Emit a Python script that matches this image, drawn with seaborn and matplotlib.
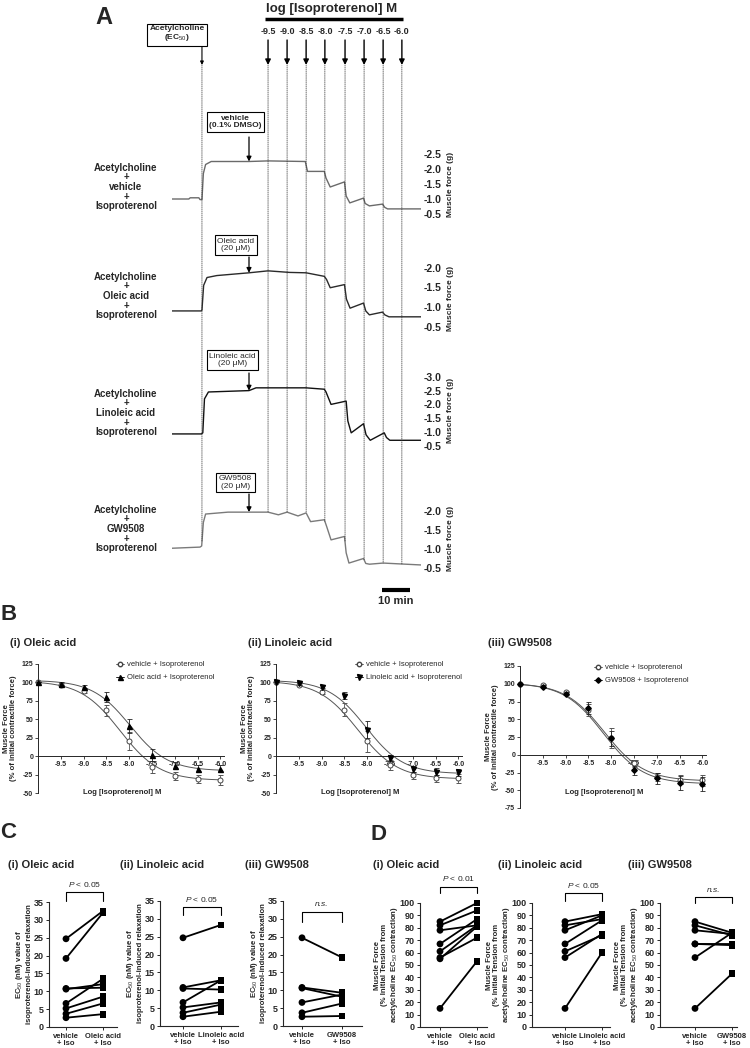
import numpy as np
import pandas as pd
import seaborn as sns
import matplotlib.pyplot as plt
from matplotlib.lines import Line2D
from matplotlib.patches import ConnectionPatch

sns.set_style('ticks')
plt.rcParams['font.family'] = ['Liberation Sans', 'DejaVu Sans']
plt.rcParams['mathtext.fontset'] = 'custom'
plt.rcParams['mathtext.rm'] = 'Liberation Sans'
plt.rcParams['mathtext.it'] = 'Liberation Sans:italic'
plt.rcParams['mathtext.bf'] = 'Liberation Sans:bold'

# ---------------- panel A : raw tension traces ----------------
iso_doses = ['-9.5', '-9.0', '-8.5', '-8.0', '-7.5', '-7.0', '-6.5', '-6.0']
iso_times = [34.3, 41.1, 47.9, 54.6, 61.8, 68.6, 75.4, 82.1]  # min
ach_time = 10.7
drug_time = 27.5

trace_names = ['vehicle', 'Oleic acid', 'Linoleic acid', 'GW9508']
drug_boxes = ['vehicle\n(0.1% DMSO)', 'Oleic acid\n(20 μM)', 'Linoleic acid\n(20 μM)', 'GW9508\n(20 μM)']

veh_t = [0, 6, 6.5, 9.6, 10.0, 10.7, 11.2, 12.0, 14.0, 27.5, 34.3, 47.6, 48.4, 54.4, 55.0, 56.5,
         61.6, 62.2, 63.5, 68.4, 69.0, 70.5, 75.2, 76.0, 77.0, 88.9]
veh_g = [1.00, 1.00, 1.04, 1.04, 0.98, 0.98, 1.85, 2.15, 2.25, 2.25, 2.27, 2.25, 1.92, 1.92, 1.70, 1.40,
         1.57, 1.10, 0.87, 1.03, 0.85, 0.77, 0.83, 0.72, 0.67, 0.67]

ole_t = [0, 10.4, 10.7, 11.3, 12.5, 16, 27.5, 34.3, 42, 47.9, 54.4, 55.2, 56.5, 61.6, 62.3, 63.6,
         68.4, 69.2, 70.5, 75.2, 76.0, 77.5, 88.9]
ole_g = [0.90, 0.90, 0.92, 1.55, 1.75, 1.80, 1.87, 1.92, 1.88, 1.87, 1.78, 1.70, 1.49, 1.57, 1.20, 0.97,
         1.10, 0.90, 0.80, 0.87, 0.80, 0.75, 0.75]

lin_t = [0, 10.5, 11.0, 11.6, 13.0, 27.5, 30, 47.9, 54.4, 55.0, 56.8, 62.2, 62.8, 64.0, 68.4, 69.3,
         70.8, 75.8, 76.6, 77.8, 88.9]
lin_g = [0.93, 0.93, 0.97, 2.20, 2.45, 2.50, 2.60, 2.60, 2.55, 2.45, 2.00, 2.12, 1.40, 0.97, 1.30, 0.90,
         0.70, 0.97, 0.80, 0.70, 0.70]

gw_t = [0, 10.0, 10.6, 11.2, 12.0, 20, 34.3, 38, 41.1, 45, 47.9, 49.5, 54.4, 55.2, 56.8, 61.6,
        62.2, 63.2, 68.4, 69.2, 70.5, 75.4, 88.9]
gw_g = [1.02, 1.05, 1.08, 1.70, 1.92, 1.97, 1.97, 1.90, 1.97, 1.87, 1.95, 1.72, 1.77, 1.60, 1.24, 1.33,
        0.90, 0.63, 0.75, 0.62, 0.60, 0.63, 0.58]

trace_ticks = [[0.5, 1.0, 1.5, 2.0, 2.5], [0.5, 1.0, 1.5, 2.0],
               [0.5, 1.0, 1.5, 2.0, 2.5, 3.0], [0.5, 1.0, 1.5, 2.0]]

# ---------------- panel B : concentration-response ----------------
log_iso = [-10, -9.5, -9.0, -8.5, -8.0, -7.5, -7.0, -6.5, -6.0]
b_tick_labels = ['-9.5', '-9.0', '-8.5', '-8.0', '-7.5', '-7.0', '-6.5', '-6.0']

veh_i = [100, 97, 88, 62, 21, -15, -27, -31, -32]
veh_i_sem = [0, 2, 3, 8, 12, 8, 5, 5, 7]
ole_i = [100, 98, 94, 80, 41, 2, -13, -17, -17]
ole_i_sem = [0, 2, 2, 7, 10, 8, 5, 5, 5]

veh_ii = [100, 97, 87, 63, 20, -12, -26, -30, -30]
veh_ii_sem = [0, 2, 3, 9, 14, 7, 5, 5, 6]
lin_ii = [100, 99, 94, 82, 36, -2, -17, -21, -22]
lin_ii_sem = [0, 2, 2, 5, 11, 4, 4, 5, 5]

veh_iii = [100, 98, 88, 63, 23, -12, -31, -35, -36]
veh_iii_sem = [0, 2, 2, 8, 14, 5, 6, 6, 8]
gw_iii = [100, 96, 86, 66, 23, -22, -33, -40, -41]
gw_iii_sem = [0, 2, 2, 8, 10, 6, 8, 10, 10]

# fitted curves: top, bottom, logEC50, hill slope
fit_veh_i = [102, -33, -8.20, 1.0]
fit_ole_i = [103, -20, -7.98, 1.05]
fit_veh_ii = [102, -31, -8.20, 1.0]
fit_lin_ii = [103, -24, -8.03, 1.05]
fit_veh_iii = [101, -37, -8.15, 1.0]
fit_gw_iii = [101, -41, -8.17, 1.0]

# ---------------- panel C : EC50 (nM) ----------------
c_veh_i = [24.7, 19.2, 10.8, 10.6, 6.6, 5.2, 3.7, 2.6]
c_ole_i = [32.5, 32.0, 11.0, 12.0, 13.5, 8.5, 6.6, 3.6]
c_veh_ii = [24.7, 10.8, 10.5, 6.6, 5.2, 3.7, 2.6]
c_lin_ii = [28.3, 12.8, 10.2, 12.8, 6.6, 6.0, 4.0]
c_veh_iii = [24.7, 10.8, 10.6, 6.6, 3.7, 2.6]
c_gw_iii = [19.2, 9.3, 8.2, 8.8, 6.3, 2.8]

# ---------------- panel D : muscle force (% initial tension) ----------------
d_veh_i = [85, 82, 78, 67, 61, 55, 56, 15]
d_ole_i = [100, 94, 82, 87, 82, 81, 72, 53]
d_veh_ii = [85, 82, 78, 67, 61, 56, 15]
d_lin_ii = [91, 87, 90, 86, 74, 75, 60]
d_veh_iii = [85, 82, 78, 67, 67, 56, 15]
d_gw_iii = [76, 74, 75, 67, 66, 76, 43]

W, H = 750, 1048
fig = plt.figure(figsize=(W / 100, H / 100), dpi=100)


def px_ax(l, t, r, b):
    return fig.add_axes([l / W, 1 - b / H, (r - l) / W, (b - t) / H])


# x position of the traces: 172 px = 0 min, 2.8 px per min
def t_of(px):
    return (px - 172) / 2.8


ov = px_ax(0, 0, W, 605)
ov.set_xlim(t_of(0), t_of(W))
ov.set_ylim(605, 0)
ov.axis('off')

fig.text(95 / W, 1 - 18 / H, 'A', fontsize=17, fontweight='bold', va='center')

traces = [(veh_t, veh_g), (ole_t, ole_g), (lin_t, lin_g), (gw_t, gw_g)]
trace_colors = ['#6a6a6a', '#2a2a2a', '#111111', '#7a7a7a']
# top px, bottom px, px of 1.0 g, px per g, left label centre, right label centre, box centre x, box centre y, box bottom
layout = [(145, 222, 199, 30.0, 187, 184, 235.5, 122, 137),
          (260, 335, 307, 39.3, 296, 298, 236, 245, 257),
          (372, 455, 432, 27.6, 413, 410, 232.5, 360, 373),
          (500, 575, 549, 38.0, 529, 538, 235.5, 482.5, 494)]

trace_axes = []
for i, (tt, gg) in enumerate(traces):
    top, bot, ref, gain, lab_y, ylab_y, bx, by, bb = layout[i]
    ax = px_ax(172, top, 421, bot)
    ax.set_xlim(0, t_of(421))
    ax.set_ylim(1.0 - (bot - ref) / gain, 1.0 + (ref - top) / gain)
    sns.lineplot(x=tt, y=gg, ax=ax, color=trace_colors[i], lw=1.0, estimator=None)
    ax.patch.set_alpha(0)
    for s in ax.spines.values():
        s.set_visible(False)
    ax.set_xticks([])
    ax.yaxis.tick_right()
    ax.set_yticks(trace_ticks[i])
    ax.set_yticklabels([f'-{v:.1f}' for v in trace_ticks[i]], fontsize=7.5, fontweight='bold')
    ax.tick_params(axis='y', length=0, pad=2)
    ax.yaxis.set_label_position('right')
    ax.set_ylabel('Muscle force (g)', fontsize=6, fontweight='bold')
    ax.yaxis.set_label_coords((447 - 172) / (421 - 172), (bot - ylab_y) / (bot - top))
    trace_axes.append(ax)

    ov.text(t_of(126), lab_y, f'Acetylcholine\n+\n{trace_names[i]}\n+\nIsoproterenol',
            ha='center', va='center', fontsize=7, fontweight='bold', linespacing=0.95)
    ov.text(t_of(bx), by, drug_boxes[i], ha='center', va='center', fontsize=6,
            fontweight='bold' if i == 0 else 'normal', linespacing=1.1,
            bbox=dict(boxstyle='square,pad=0.3', fc='white', ec='black', lw=0.8))
    ov.annotate('', xy=(drug_time, np.interp(drug_time, tt, gg)), xycoords=ax.transData,
                xytext=(drug_time, bb), textcoords='data',
                arrowprops=dict(arrowstyle='-|>', color='black', lw=0.9, mutation_scale=7,
                                shrinkA=0, shrinkB=0))

# acetylcholine box
ov.text(t_of(177), 34, 'Acetylcholine\n(EC$_{50}$)', ha='center', va='center', fontsize=6,
        fontweight='bold', linespacing=1.1,
        bbox=dict(boxstyle='square,pad=0.3', fc='white', ec='black', lw=0.8))
ov.annotate('', xy=(ach_time, 65), xytext=(ach_time, 47),
            arrowprops=dict(arrowstyle='-|>', color='black', lw=0.8, mutation_scale=5,
                            shrinkA=0, shrinkB=0))

# isoproterenol additions
ov.text(t_of(332), 9, 'log [Isoproterenol] M', ha='center', va='center', fontsize=9.5, fontweight='bold')
ov.plot([iso_times[0] - 1.1, iso_times[-1] + 0.3], [19, 19], color='black', lw=2.5, solid_capstyle='butt')
for t, d in zip(iso_times, iso_doses):
    ov.text(t, 32, d, ha='center', va='center', fontsize=6.5, fontweight='bold')
    ov.annotate('', xy=(t, 65), xytext=(t, 40),
                arrowprops=dict(arrowstyle='-|>', color='black', lw=1.0, mutation_scale=8,
                                shrinkA=0, shrinkB=0))

# dotted guide lines down to the last trace
gw_ax = trace_axes[-1]
for t in [ach_time] + iso_times:
    con = ConnectionPatch(xyA=(t, 65), coordsA=ov.transData,
                          xyB=(t, np.interp(t, gw_t, gw_g)), coordsB=gw_ax.transData,
                          color='#333333', lw=0.5, linestyle=(0, (1.5, 1.5)))
    fig.add_artist(con)

# scale bar
ov.plot([75, 85], [590, 590], color='black', lw=3, solid_capstyle='butt')
ov.text(80, 601, '10 min', ha='center', va='center', fontsize=8, fontweight='bold')


# ---------------- panel B ----------------
def logistic(x, p):
    top, bottom, logec, hill = p
    return bottom + (top - bottom) / (1 + 10 ** ((x - logec) * hill))


def dose_panel(l, t, b, ylim, title, title_x, veh, veh_sem, drug, drug_sem,
               fit_v, fit_d, marker, ms, drug_label, leg_x, leg_y, xlab_y):
    r = l + 186
    ax = px_ax(l, t, r, b)
    ax.set_xlim(-10, -10 + (r - l) / 45.6)
    ax.set_ylim(*ylim)
    xs = np.linspace(-10, -6, 200)
    sns.lineplot(x=xs, y=logistic(xs, fit_v), ax=ax, color='#555555', lw=0.7)
    sns.lineplot(x=xs, y=logistic(xs, fit_d), ax=ax, color='#555555', lw=0.7)
    ax.errorbar(log_iso, veh, yerr=veh_sem, fmt='o', mfc='white', mec='#444444', mew=0.7, ms=3.6,
                ecolor='#555555', elinewidth=0.6, capsize=1.8, capthick=0.6, clip_on=False, zorder=3)
    ax.errorbar(log_iso, drug, yerr=drug_sem, fmt=marker, color='black', ms=ms,
                ecolor='#222222', elinewidth=0.6, capsize=1.8, capthick=0.6, clip_on=False, zorder=4)
    sns.despine(ax=ax)
    ax.spines['bottom'].set_position(('data', 0))
    for s in ['left', 'bottom']:
        ax.spines[s].set_linewidth(0.7)
    ax.set_xticks(log_iso[1:])
    ax.set_xticklabels(b_tick_labels, fontsize=5, fontweight='bold')
    yt = list(range(ylim[0], ylim[1] + 1, 25))
    ax.set_yticks(yt)
    ax.set_yticklabels([str(v) for v in yt], fontsize=5, fontweight='bold')
    ax.tick_params(length=2, width=0.6, pad=1.5)
    ax.set_xlabel('Log [Isoproterenol] M', fontsize=5.5, fontweight='bold')
    ax.xaxis.set_label_coords(0.45, (b - xlab_y) / (b - t))
    ax.set_ylabel('Muscle Force\n(% of initial contractile force)', fontsize=5.5,
                  fontweight='bold', linespacing=1.05)
    ax.yaxis.set_label_coords(-21 / (r - l), 0.5)
    handles = [Line2D([], [], color='#444444', marker='o', mfc='white', ms=3.2, lw=0.6),
               Line2D([], [], color='black', marker=marker, ms=ms, lw=0.6)]
    ax.legend(handles, ['vehicle + Isoproterenol', drug_label], loc='upper left',
              bbox_to_anchor=((leg_x - l) / (r - l), (b - leg_y) / (b - t)), frameon=False,
              fontsize=5.5, handlelength=1.0, handletextpad=0.4, labelspacing=0.75,
              borderaxespad=0, borderpad=0)
    fig.text(title_x / W, 1 - 643 / H, title, fontsize=8, fontweight='bold', va='center')
    return ax


fig.text(0, 1 - 615 / H, 'B', fontsize=16, fontweight='bold', va='center')
dose_panel(38, 664, 793, (-50, 125), '(i) Oleic acid', 10, veh_i, veh_i_sem, ole_i, ole_i_sem,
           fit_veh_i, fit_ole_i, '^', 3.6, 'Oleic acid + Isoproterenol', 116, 661, 789)
dose_panel(276, 664, 793, (-50, 125), '(ii) Linoleic acid', 248, veh_ii, veh_ii_sem, lin_ii, lin_ii_sem,
           fit_veh_ii, fit_lin_ii, 'v', 3.6, 'Linoleic acid + Isoproterenol', 355, 661, 789)
dose_panel(520, 666, 808, (-75, 125), '(iii) GW9508', 488, veh_iii, veh_iii_sem, gw_iii, gw_iii_sem,
           fit_veh_iii, fit_gw_iii, 'D', 2.8, 'GW9508 + Isoproterenol', 594, 664, 789)


# ---------------- panels C and D ----------------
def paired_panel(l, t, r, b, v_px, d_px, ymax, ystep, before, after, drug, sig, bracket,
                 ylabel, label_off, title, title_x):
    ax = px_ax(l, t, r, b)
    gap = d_px - v_px
    df = pd.DataFrame({
        'pair': list(range(len(before))) * 2,
        'x': [0] * len(before) + [1] * len(after),
        'cond': ['vehicle'] * len(before) + ['drug'] * len(after),
        'value': before + after,
    })
    sns.lineplot(data=df, x='x', y='value', units='pair', estimator=None, color='black',
                 lw=1.3, ax=ax)
    sns.scatterplot(data=df, x='x', y='value', style='cond', markers={'vehicle': 'o', 'drug': 's'},
                    color='black', s=24, linewidth=0, legend=False, ax=ax, zorder=3, clip_on=False)
    ax.set_xlim((l - v_px) / gap, 1 + (r - d_px) / gap)
    ax.set_ylim(0, ymax)
    sns.despine(ax=ax)
    for s in ['left', 'bottom']:
        ax.spines[s].set_linewidth(0.8)
    ax.set_xticks([0, 1])
    ax.set_xticklabels(['vehicle\n+ Iso', f'{drug}\n+ Iso'], fontsize=5.5, fontweight='bold',
                       linespacing=1.15)
    yt = list(range(0, ymax + 1, ystep))
    ax.set_yticks(yt)
    ax.set_yticklabels([str(v) for v in yt], fontsize=6.5, fontweight='bold')
    ax.tick_params(length=2.5, width=0.7, pad=1.5)
    ax.set_xlabel('')
    ax.set_ylabel(ylabel, fontsize=5.6, fontweight='bold', linespacing=1.1)
    ax.yaxis.set_label_coords(-label_off / (r - l), 0.5)
    lo, hi, ty = bracket
    ax.plot([0, 0, 1, 1], [lo, hi, hi, lo], color='black', lw=0.8, clip_on=False)
    if sig == 'n.s.':
        ax.text(0.5, ty, 'n.s.', ha='center', va='center', fontsize=6, fontstyle='italic')
    else:
        ax.text(0.5, ty, r'$\mathit{P}$' + f' < {sig}', ha='center', va='center', fontsize=6)
    fig.text(title_x / W, 1 - 865 / H, title, fontsize=8, fontweight='bold', va='center')
    return ax


c_ylab = 'EC$_{50}$ (nM) value of\nisoproterenol-induced relaxation'
d_ylab = 'Muscle Force\n(% Initial Tension from\nacetylcholine EC$_{50}$ contraction)'

fig.text(0, 1 - 832 / H, 'C', fontsize=16, fontweight='bold', va='center')
paired_panel(49, 902, 117, 1027, 66, 103, 35, 5, c_veh_i, c_ole_i, 'Oleic acid', '0.05',
             (35.2, 37.8, 40.0), c_ylab, 16, '(i) Oleic acid', 8)
paired_panel(160, 901, 238, 1026, 183, 221, 35, 5, c_veh_ii, c_lin_ii, 'Linoleic acid', '0.05',
             (31.0, 33.3, 35.3), c_ylab, 16, '(ii) Linoleic acid', 120)
paired_panel(283, 901, 362, 1026, 302, 342, 35, 5, c_veh_iii, c_gw_iii, 'GW9508', 'n.s.',
             (29.0, 32.0, 34.0), c_ylab, 16, '(iii) GW9508', 245)

fig.text(370 / W, 1 - 835 / H, 'D', fontsize=16, fontweight='bold', va='center')
paired_panel(420, 903, 487, 1027, 440, 477, 100, 10, d_veh_i, d_ole_i, 'Oleic acid', '0.01',
             (108, 113, 120), d_ylab, 20, '(i) Oleic acid', 373)
paired_panel(532, 903, 610, 1027, 565, 602, 100, 10, d_veh_ii, d_lin_ii, 'Linoleic acid', '0.05',
             (102, 108, 114), d_ylab, 20, '(ii) Linoleic acid', 498)
paired_panel(660, 903, 737, 1027, 695, 732, 100, 10, d_veh_iii, d_gw_iii, 'GW9508', 'n.s.',
             (100, 105, 110), d_ylab, 20, '(iii) GW9508', 628)

fig.savefig('out.png', dpi=100)
